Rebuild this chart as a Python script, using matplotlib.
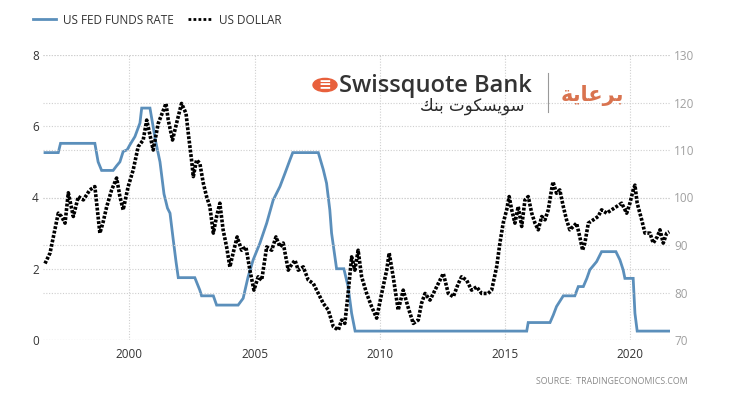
import matplotlib.pyplot as plt
from matplotlib.lines import Line2D
from matplotlib.patches import Circle

# US fed funds rate (vertices of the line)
fed_years = [1996.63, 1997.16, 1997.25, 1998.62, 1998.75, 1998.89, 1999.35, 1999.49,
             1999.62, 1999.75, 1999.91, 2000.02, 2000.22, 2000.42, 2000.49, 2000.82,
             2001.04, 2001.22, 2001.38, 2001.52, 2001.62, 2001.75, 2001.86, 2001.95,
             2002.61, 2002.81, 2002.88, 2003.35, 2003.48, 2004.34, 2004.54, 2004.74,
             2004.94, 2005.21, 2005.48, 2005.74, 2006.01, 2006.21, 2006.41, 2006.52,
             2007.54, 2007.74, 2007.87, 2008.00, 2008.07, 2008.27, 2008.56, 2008.73,
             2008.87, 2009.01, 2015.86, 2015.92, 2016.79, 2016.92, 2017.05, 2017.32,
             2017.78, 2017.92, 2018.12, 2018.26, 2018.38, 2018.65, 2018.85, 2019.42,
             2019.58, 2019.71, 2019.78, 2020.11, 2020.18, 2020.27, 2021.54]
fed_rate = [5.26, 5.26, 5.52, 5.52, 5.00, 4.76, 4.76, 4.89,
            5.00, 5.29, 5.34, 5.48, 5.71, 6.09, 6.51, 6.51,
            5.60, 5.00, 4.10, 3.70, 3.56, 2.81, 2.20, 1.75,
            1.75, 1.40, 1.24, 1.24, 0.98, 0.98, 1.17, 1.78,
            2.25, 2.72, 3.28, 3.93, 4.31, 4.68, 5.06, 5.26,
            5.26, 4.78, 4.40, 3.65, 3.00, 2.00, 2.00, 1.50,
            0.75, 0.25, 0.25, 0.49, 0.49, 0.70, 0.94, 1.24,
            1.24, 1.50, 1.50, 1.73, 1.97, 2.20, 2.48, 2.48,
            2.25, 1.97, 1.73, 1.73, 0.75, 0.25, 0.25]

# US dollar index
usd_years = [1996.63, 1996.83, 1997.02, 1997.16, 1997.29, 1997.43, 1997.56, 1997.76,
             1997.96, 1998.16, 1998.42, 1998.62, 1998.75, 1998.82, 1998.94, 1999.09,
             1999.29, 1999.49, 1999.62, 1999.75, 1999.95, 2000.15, 2000.35, 2000.55,
             2000.69, 2000.95, 2001.15, 2001.46, 2001.55, 2001.72, 2001.88, 2002.08,
             2002.26, 2002.35, 2002.48, 2002.55, 2002.68, 2002.81, 2002.95, 2003.08,
             2003.21, 2003.35, 2003.48, 2003.61, 2003.74, 2003.88, 2004.01, 2004.14,
             2004.30, 2004.48, 2004.65, 2004.81, 2004.97, 2005.14, 2005.28, 2005.48,
             2005.68, 2005.85, 2006.01, 2006.14, 2006.34, 2006.41, 2006.61, 2006.74,
             2006.94, 2007.14, 2007.34, 2007.54, 2007.74, 2007.94, 2008.14, 2008.34,
             2008.47, 2008.60, 2008.73, 2008.87, 2009.00, 2009.13, 2009.27, 2009.47,
             2009.67, 2009.87, 2010.07, 2010.27, 2010.37, 2010.53, 2010.73, 2010.93,
             2011.13, 2011.33, 2011.53, 2011.66, 2011.80, 2012.00, 2012.20, 2012.40,
             2012.53, 2012.73, 2012.93, 2013.13, 2013.26, 2013.46, 2013.66, 2013.86,
             2014.06, 2014.32, 2014.46, 2014.66, 2014.79, 2014.92, 2015.06, 2015.16,
             2015.26, 2015.39, 2015.52, 2015.66, 2015.79, 2015.92, 2016.06, 2016.19,
             2016.32, 2016.46, 2016.59, 2016.72, 2016.85, 2016.91, 2017.05, 2017.18,
             2017.32, 2017.45, 2017.58, 2017.72, 2017.85, 2017.98, 2018.09, 2018.18,
             2018.32, 2018.52, 2018.71, 2018.85, 2019.05, 2019.25, 2019.45, 2019.65,
             2019.85, 2019.98, 2020.11, 2020.18, 2020.27, 2020.45, 2020.58, 2020.78,
             2020.91, 2021.07, 2021.18, 2021.31, 2021.45, 2021.55]
usd_index = [86.1, 88.3, 93.2, 96.7, 96.0, 94.6, 101.0, 96.0,
             100.2, 99.5, 101.6, 102.3, 96.0, 92.5, 94.6, 98.0,
             101.6, 104.1, 100.2, 97.4, 102.3, 105.8, 110.7, 112.1,
             116.3, 110.0, 115.6, 119.8, 116.3, 112.1, 115.6, 119.8,
             117.7, 113.5, 107.9, 104.4, 107.9, 107.2, 103.0, 100.2,
             98.1, 92.5, 96.0, 98.8, 93.2, 89.6, 85.4, 88.3,
             91.7, 88.9, 89.6, 84.7, 80.5, 83.3, 82.6, 89.6,
             88.9, 91.7, 89.6, 90.4, 84.7, 85.4, 86.8, 84.7,
             85.4, 82.6, 81.9, 79.8, 77.7, 76.3, 72.8, 72.1,
             74.2, 73.5, 79.8, 87.5, 84.7, 88.9, 83.3, 79.8,
             77.0, 74.6, 79.8, 84.7, 88.3, 83.3, 76.3, 80.5,
             76.8, 73.5, 74.2, 77.7, 79.8, 78.4, 80.5, 82.6,
             84.0, 79.8, 79.1, 81.9, 83.3, 82.6, 80.5, 81.2,
             79.8, 79.8, 80.5, 85.4, 90.4, 94.6, 97.4, 100.2,
             97.4, 94.6, 98.1, 93.9, 99.5, 100.2, 96.7, 94.6,
             93.2, 96.0, 95.3, 97.4, 101.6, 103.3, 100.9, 101.6,
             98.1, 95.3, 93.2, 93.9, 94.6, 91.7, 88.9, 90.4,
             94.6, 95.3, 96.0, 97.4, 96.7, 97.4, 98.1, 98.8,
             96.7, 98.8, 101.6, 102.6, 98.8, 95.3, 92.5, 92.5,
             90.4, 91.7, 93.2, 90.4, 92.5, 92.8]

year_ticks = [2000, 2005, 2010, 2015, 2020]
left_ticks = [0, 2, 4, 6, 8]
right_ticks = [70, 80, 90, 100, 110, 120, 130]

blue = '#5b8fbb'
font = 'Open Sans'
plt.rcParams['font.family'] = [font, 'DejaVu Sans']

fig = plt.figure(figsize=(7.3, 4.0), dpi=100)
ax = fig.add_axes([43 / 730, 60 / 400, 627 / 730, 285 / 400])
ax2 = ax.twinx()

ax.plot(fed_years, fed_rate, color=blue, lw=2.0, solid_joinstyle='miter')
ax2.plot(usd_years, usd_index, color='black', lw=2.6, linestyle=(0, (0.8, 0.45)))

ax.set_xlim(1996.55, 2021.58)
ax.set_ylim(0, 8)
ax2.set_ylim(70, 130)
ax.set_xticks(year_ticks)
ax.set_yticks(left_ticks)
ax2.set_yticks(right_ticks)

for a in (ax, ax2):
    for s in a.spines.values():
        s.set_visible(False)
    a.tick_params(length=0)

ax.tick_params(axis='x', colors='#333333', labelsize=8.5, pad=6)
ax.tick_params(axis='y', colors='#333333', labelsize=8.5, pad=3)
ax2.tick_params(axis='y', colors='#a0a0a0', labelsize=8.5, pad=3)

ax.grid(True, color='#cfcfcf', linestyle=(0, (1, 1.5)), linewidth=0.8)
ax2.grid(True, axis='y', color='#cfcfcf', linestyle=(0, (1, 1.5)), linewidth=0.8)
ax.set_axisbelow(True)

# legend
handles = [Line2D([], [], color=blue, lw=2.0),
           Line2D([], [], color='black', lw=2.0, linestyle=(0, (1, 0.8)))]
fig.legend(handles, ['US FED FUNDS RATE', 'US DOLLAR'], loc='center left',
           bbox_to_anchor=(22 / 730, 1 - 20 / 400), ncol=2, frameon=False,
           fontsize=8.5, handlelength=2.0, handletextpad=0.6, columnspacing=1.2,
           labelcolor='#333333')

# sponsor logo
fig.patches.append(Circle((325 / 730, 1 - 85 / 400), 12 / 730, transform=fig.transFigure,
                          color='#e8603c', zorder=5))
fig.text(325 / 730, 1 - 85 / 400, '\u2261', color='white', fontsize=11, fontweight='bold',
         ha='center', va='center', family='DejaVu Sans', zorder=6)
fig.text(339 / 730, 1 - 86 / 400, 'Swissquote Bank', color='#333333', fontsize=17,
         fontweight='semibold', ha='left', va='center')
fig.text(525 / 730, 1 - 106 / 400,
         '\ufeda\ufee8\ufe91 \ufe95\ufeee\ufedc\ufeb4\ufef3\ufeee\ufeb3',
         color='#2a2a2a', fontsize=12, ha='right', va='center', family='DejaVu Sans')
fig.add_artist(Line2D([548 / 730, 548 / 730], [1 - 73 / 400, 1 - 112 / 400],
                      color='#999999', lw=0.8))
fig.text(592 / 730, 1 - 96 / 400, '\ufe94\ufef3\ufe8e\ufecb\ufeae\ufe91',
         color='#d9734f', fontsize=15, fontweight='bold', ha='center', va='center',
         family='DejaVu Sans')

fig.text(688 / 730, 1 - 382 / 400, 'SOURCE:  TRADINGECONOMICS.COM', color='#8a8a8a',
         fontsize=6.3, ha='right', va='center')

fig.savefig('out.png', dpi=100, facecolor='white')
